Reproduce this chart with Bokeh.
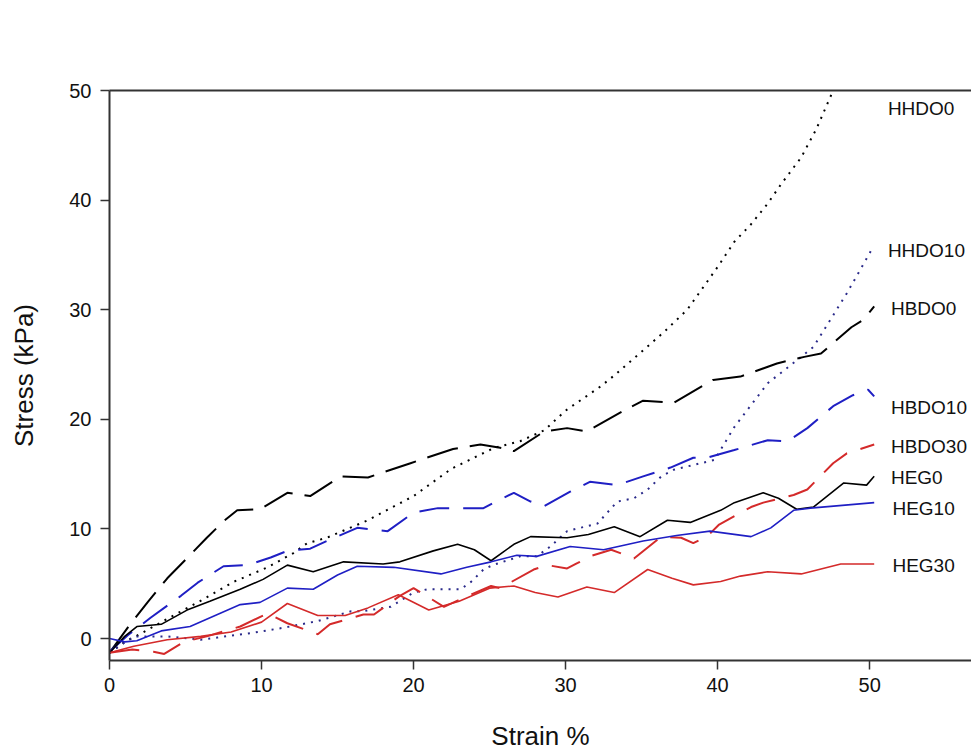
import math
from bokeh.plotting import figure
from bokeh.models import Range1d, LinearAxis, Label, FixedTicker
from bokeh.embed import file_html
from bokeh.resources import INLINE

# ---- data ----
hhdo0_x = [0, 1, 2, 3.8, 5.8, 8.2, 10.4, 12.1, 13.0, 14.3, 17.0, 20.0, 22.5, 25.3, 27.0, 28.6, 30.0, 32.3, 33.2, 35.1, 36.5, 38.0, 40.0, 41.1, 42.2, 43.3, 44.2, 45.5, 46.5, 47.6]
hhdo0_y = [-1.3, -0.3, 0.4, 1.8, 3.3, 5.2, 6.5, 7.8, 8.7, 9.2, 10.8, 13.0, 15.5, 17.4, 18.0, 19.0, 20.8, 23.0, 24.0, 26.3, 28.0, 30.0, 33.9, 36.2, 37.8, 39.7, 41.5, 43.9, 46.5, 50.0]

hhdo10_x = [0, 1.6, 3.8, 6.0, 7.1, 9.3, 11.5, 13.7, 15.9, 16.7, 18.5, 20.0, 20.9, 23.1, 23.8, 24.6, 25.2, 27.0, 28.1, 29.0, 30.1, 32.1, 33.4, 34.5, 35.4, 36.3, 37.1, 39.8, 41.1, 43.3, 45.5, 46.3, 48.5, 50.1]
hhdo10_y = [-1.3, 0.2, 0.2, -0.1, 0.1, 0.5, 1.0, 1.6, 2.5, 2.5, 2.9, 4.2, 4.5, 4.5, 5.2, 6.3, 6.7, 7.5, 7.5, 8.4, 9.8, 10.5, 12.5, 12.8, 13.6, 14.8, 15.4, 16.3, 19.3, 23.3, 25.7, 26.6, 31.5, 35.4]

hbdo0_x = [0, 1.2, 2.5, 3.8, 5.0, 6.4, 7.5, 8.4, 9.9, 11.7, 13.2, 15.2, 17.0, 19.8, 22.6, 24.4, 25.7, 26.6, 28.6, 30.1, 31.4, 34.1, 35.1, 37.1, 39.7, 41.5, 43.9, 45.7, 46.8, 48.8, 49.6, 50.3]
hbdo0_y = [-1.3, 1.0, 3.3, 5.5, 7.2, 9.2, 10.7, 11.7, 11.8, 13.3, 13.0, 14.8, 14.7, 16.0, 17.3, 17.7, 17.4, 17.1, 18.9, 19.2, 18.9, 21.0, 21.7, 21.5, 23.6, 23.9, 25.1, 25.7, 26.0, 28.4, 29.1, 30.3]

hbdo10_x = [0, 1.2, 2.7, 4.7, 5.8, 7.5, 9.1, 10.6, 11.7, 13.2, 14.3, 16.3, 18.3, 20.0, 21.6, 24.6, 25.7, 26.6, 27.7, 28.6, 30.3, 31.6, 33.4, 35.1, 36.9, 38.4, 39.3, 41.1, 43.3, 44.6, 45.9, 47.6, 48.9, 49.9, 50.3]
hbdo10_y = [-1.2, 0.3, 1.9, 3.9, 5.1, 6.6, 6.7, 7.4, 8.0, 8.2, 8.9, 10.1, 9.8, 11.5, 11.9, 11.9, 12.7, 13.3, 12.5, 12.1, 13.4, 14.3, 14.0, 14.8, 15.6, 16.5, 16.5, 17.2, 18.1, 18.0, 19.2, 21.2, 22.2, 22.7, 22.1]

hbdo30_x = [0, 1.5, 2.9, 3.6, 4.9, 6.4, 8.6, 10.4, 11.7, 13.7, 14.5, 16.7, 17.4, 19.1, 20.0, 22.0, 23.1, 25.1, 25.7, 27.9, 28.8, 30.1, 30.8, 31.6, 33.0, 33.6, 34.5, 36.3, 37.6, 38.4, 39.3, 40.1, 42.2, 43.0, 45.0, 45.9, 47.6, 48.5, 50.3]
hbdo30_y = [-1.3, -1.0, -1.2, -1.4, -0.3, 0.2, 1.1, 2.3, 1.4, 0.4, 1.3, 2.2, 2.2, 3.9, 4.6, 2.9, 3.6, 4.8, 4.6, 6.3, 6.7, 6.4, 6.9, 7.5, 8.1, 7.8, 7.3, 9.3, 9.2, 8.7, 9.3, 10.4, 12.0, 12.4, 13.1, 13.6, 16.0, 16.9, 17.7]

heg0_x = [0, 1.0, 1.8, 3.4, 5.1, 6.6, 8.6, 10.1, 11.7, 13.4, 15.4, 18.0, 19.1, 21.3, 22.9, 24.0, 25.1, 26.6, 27.7, 30.1, 31.5, 33.2, 34.9, 36.7, 38.2, 40.2, 41.1, 43.0, 44.0, 45.2, 46.3, 48.3, 49.8, 50.3]
heg0_y = [-1.3, 0.2, 1.1, 1.3, 2.6, 3.4, 4.5, 5.4, 6.7, 6.1, 7.0, 6.8, 7.0, 8.0, 8.6, 8.1, 7.1, 8.6, 9.3, 9.2, 9.5, 10.2, 9.3, 10.8, 10.6, 11.7, 12.4, 13.3, 12.8, 11.8, 12.0, 14.2, 14.0, 14.8]

heg10_x = [0, 1.0, 1.8, 3.4, 5.3, 7.1, 8.6, 9.9, 11.7, 13.4, 15.0, 16.3, 18.7, 21.8, 23.5, 25.1, 26.8, 28.1, 30.3, 32.5, 35.1, 37.3, 39.5, 42.2, 43.5, 45.0, 46.1, 50.3]
heg10_y = [0.0, -0.3, -0.2, 0.7, 1.1, 2.2, 3.1, 3.3, 4.6, 4.5, 5.8, 6.6, 6.5, 5.9, 6.5, 7.0, 7.6, 7.5, 8.4, 8.1, 8.9, 9.4, 9.8, 9.3, 10.1, 11.7, 11.9, 12.4]

heg30_x = [0, 1.6, 3.8, 6.0, 8.0, 10.0, 11.7, 13.7, 15.5, 17.0, 19.0, 21.0, 23.0, 25.0, 26.6, 28.0, 29.5, 31.4, 33.2, 35.4, 37.0, 38.4, 40.2, 41.5, 43.3, 45.5, 48.1, 50.3]
heg30_y = [-1.3, -0.7, -0.1, 0.2, 0.6, 1.5, 3.2, 2.1, 2.1, 2.8, 4.0, 2.6, 3.4, 4.6, 4.8, 4.2, 3.8, 4.7, 4.2, 6.3, 5.5, 4.9, 5.2, 5.7, 6.1, 5.9, 6.8, 6.8]

series_names = ["HHDO0", "HHDO10", "HBDO0", "HBDO10", "HBDO30", "HEG0", "HEG10", "HEG30"]
label_x = [51.2, 51.2, 51.4, 51.4, 51.4, 51.4, 51.5, 51.5]
label_y = [48.4, 35.4, 30.1, 21.1, 17.5, 14.7, 11.9, 6.7]

x_ticks = [0, 10, 20, 30, 40, 50]
y_ticks = [0, 10, 20, 30, 40, 50]

FONT = "Liberation Sans"
BLACK = "#000000"
BLUE = "#1f1fc4"
NAVY = "#2a2a8a"
RED = "#d42a2a"

p = figure(width=971, height=753, output_backend="svg", toolbar_location=None,
           x_range=Range1d(0, 56.7), y_range=Range1d(-2, 50),
           min_border_left=109, min_border_right=0, min_border_top=90, min_border_bottom=92,
           x_axis_location=None, y_axis_location=None)
p.outline_line_color = None
p.xgrid.visible = False
p.ygrid.visible = False
p.background_fill_color = "white"
p.border_fill_color = "white"

AX = "#333333"
xa = LinearAxis(ticker=FixedTicker(ticks=x_ticks), axis_label="Strain %")
ya = LinearAxis(ticker=FixedTicker(ticks=y_ticks), axis_label="Stress (kPa)")
top = LinearAxis(ticker=FixedTicker(ticks=[]))
for ax in (xa, ya, top):
    ax.axis_line_color = AX
    ax.axis_line_width = 2
    ax.major_tick_line_color = AX
    ax.major_tick_line_width = 1.5
    ax.major_tick_in = 0
    ax.major_tick_out = 9
    ax.minor_tick_line_color = None
    ax.major_label_text_font = FONT
    ax.major_label_text_font_size = "20px"
    ax.major_label_text_color = "#111111"
    ax.major_label_standoff = 9
    ax.axis_label_text_font = FONT
    ax.axis_label_text_font_size = "26px"
    ax.axis_label_text_font_style = "normal"
    ax.axis_label_text_color = "#111111"
xa.major_label_standoff = 8
xa.axis_label_standoff = 26
ya.axis_label_standoff = 27
top.major_label_text_color = None
top.major_tick_line_color = None
p.add_layout(xa, "below")
p.add_layout(ya, "left")
p.add_layout(top, "above")

p.line(hhdo0_x, hhdo0_y, line_color=BLACK, line_width=2, line_dash="2 6")
p.line(hhdo10_x, hhdo10_y, line_color=NAVY, line_width=2, line_dash="2 6")
p.line(hbdo0_x, hbdo0_y, line_color=BLACK, line_width=2, line_dash="32 12")
p.line(hbdo10_x, hbdo10_y, line_color=BLUE, line_width=2, line_dash="30 14")
p.line(hbdo30_x, hbdo30_y, line_color=RED, line_width=2, line_dash="30 14")
p.line(heg0_x, heg0_y, line_color=BLACK, line_width=1.6)
p.line(heg10_x, heg10_y, line_color=BLUE, line_width=1.6)
p.line(heg30_x, heg30_y, line_color=RED, line_width=1.6)

for name, lx, ly in zip(series_names, label_x, label_y):
    p.add_layout(Label(x=lx, y=ly, text=name, text_font=FONT, text_font_size="19px",
                       text_color="#111111", text_baseline="middle", text_align="left"))

open("out.html", "w").write(file_html(p, INLINE))
